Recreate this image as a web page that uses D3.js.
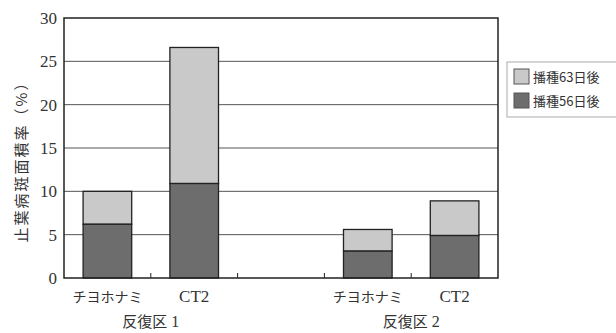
<!DOCTYPE html>
<html><head><meta charset="utf-8">
<script src="https://cdn.jsdelivr.net/npm/d3@7"></script>
<style>body{margin:0;background:#fff;}svg{display:block;}
.serif{font-family:"Liberation Serif","Times New Roman","DejaVu Serif",serif;}
.cjk{font-family:"Noto Sans CJK JP","Noto Sans",sans-serif;}
</style>
</head><body>
<svg id="c" width="616" height="333"></svg>
<script>
const slots = ["r1a","r1b","gap","r2a","r2b"];
const categories = ["r1a","r1b","r2a","r2b"];
const catLabels = ["チヨホナミ","CT2","チヨホナミ","CT2"];
const day56 = [6.2, 10.9, 3.1, 4.9];
const day63 = [10.0, 26.6, 5.6, 8.9];
const groups = ["反復区","反復区"];
const groupNums = ["1","2"];
const groupSlots = [["r1a","r1b"],["r2a","r2b"]];
const yTicks = [0,5,10,15,20,25,30];
const seriesNames = ["播種63日後","播種56日後"];

const svg = d3.select("#c");
const L=64, R=498, T=18, B=278;
const x = d3.scaleBand().domain(slots).range([L,R]).paddingInner(0.44).paddingOuter(0.22);
const y = d3.scaleLinear().domain([0,30]).range([B,T]);

svg.append("g").selectAll("line").data(yTicks.filter(t=>t>0&&t<30)).join("line")
  .attr("x1",L).attr("x2",R).attr("y1",d=>y(d)).attr("y2",d=>y(d))
  .attr("stroke","#555").attr("stroke-width",1);

const bars = svg.append("g");
categories.forEach((c,i)=>{
  bars.append("rect").attr("x",x(c)).attr("width",x.bandwidth())
    .attr("y",y(day63[i])).attr("height",y(day56[i])-y(day63[i]))
    .attr("fill","#c9c9c9").attr("stroke","#222").attr("stroke-width",1.3);
  bars.append("rect").attr("x",x(c)).attr("width",x.bandwidth())
    .attr("y",y(day56[i])).attr("height",y(0)-y(day56[i]))
    .attr("fill","#6d6d6d").attr("stroke","#222").attr("stroke-width",1.3);
});

svg.append("rect").attr("x",L).attr("y",T).attr("width",R-L).attr("height",B-T)
  .attr("fill","none").attr("stroke","#222").attr("stroke-width",1.5);

const yAxis = d3.axisLeft(y).tickValues(yTicks).tickSize(0).tickPadding(7);
const ya = svg.append("g").attr("transform",`translate(${L},0)`).call(yAxis)
  .attr("font-family",null).attr("font-size",null);
ya.select(".domain").remove();
ya.selectAll("text").attr("class","serif").style("font-size","17px").attr("fill","#333");

svg.append("g").selectAll("line").data(slots.slice(1)).join("line")
  .attr("x1",d=>x(d)-x.step()*x.paddingInner()/2).attr("x2",d=>x(d)-x.step()*x.paddingInner()/2)
  .attr("y1",B).attr("y2",B-5).attr("stroke","#222").attr("stroke-width",1);

svg.append("g").selectAll("text").data(categories).join("text")
  .attr("x",d=>x(d)+x.bandwidth()/2).attr("y",302)
  .attr("text-anchor","middle")
  .attr("class",(d,i)=>catLabels[i]==="CT2"?"serif":"cjk")
  .style("font-size",(d,i)=>catLabels[i]==="CT2"?"17px":"14px")
  .attr("fill","#333")
  .text((d,i)=>catLabels[i]);

const gl = svg.append("g").selectAll("text").data(groups).join("text")
  .attr("x",(d,i)=>(x(groupSlots[i][0])+x(groupSlots[i][1])+x.bandwidth())/2)
  .attr("y",327).attr("text-anchor","middle")
  .attr("class","cjk").style("font-size","15px").attr("fill","#333");
gl.append("tspan").text(d=>d);
gl.append("tspan").attr("class","serif").attr("dx",4).style("font-size","16px").text((d,i)=>groupNums[i]);

svg.append("text").attr("transform","translate(27,158) rotate(-90)")
  .attr("text-anchor","middle").attr("class","cjk").style("font-size","15px")
  .style("letter-spacing","2px").attr("fill","#333")
  .text("止葉病斑面積率（%）");

const lg = svg.append("g");
lg.append("rect").attr("x",507).attr("y",62).attr("width",112).attr("height",55)
  .attr("fill","#fff").attr("stroke","#aaa").attr("stroke-width",1);
const lc = ["#c9c9c9","#6d6d6d"];
seriesNames.forEach((s,i)=>{
  lg.append("rect").attr("x",514).attr("y",69+i*24).attr("width",15).attr("height",15)
    .attr("fill",lc[i]).attr("stroke","#555").attr("stroke-width",1);
  lg.append("text").attr("x",533).attr("y",82+i*24)
    .attr("class","cjk").style("font-size","13px").attr("fill","#333").text(s);
});
</script>
</body></html>
